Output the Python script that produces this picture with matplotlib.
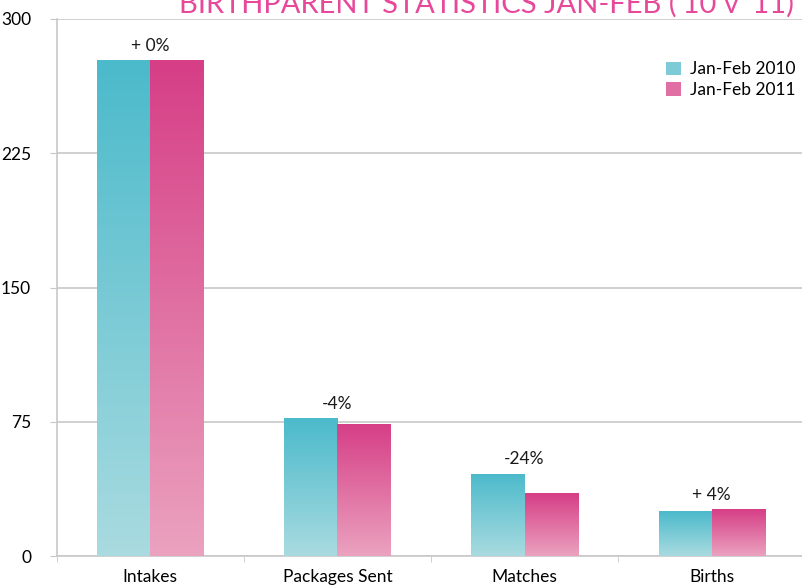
import numpy as np
import matplotlib
matplotlib.use("Agg")
import matplotlib.pyplot as plt
from matplotlib.colors import LinearSegmentedColormap
from matplotlib.patches import Patch

categories = ["Intakes", "Packages Sent", "Matches", "Births"]
series_names = ["Jan-Feb 2010", "Jan-Feb 2011"]
values_2010 = [277, 77, 46, 25]
values_2011 = [277, 74, 35, 26]
change_labels = ["+ 0%", "-4%", "-24%", "+ 4%"]
yticks = [0, 75, 150, 225, 300]

# top / bottom gradient colours
TEAL = ("#4bbacb", "#a9dbe0")
PINK = ("#d63e86", "#eba2bf")
GRID = "#c8c8c8"
TITLE = "#e8489a"
FS = 12.5

plt.rcParams["font.family"] = ["Lato", "DejaVu Sans"]

fig = plt.figure(figsize=(8.02, 5.88), dpi=100)
ax = fig.add_axes([0.0707, 0.0544, 0.9333, 0.9133])

x = np.arange(len(categories))
w = 0.284


def gradient_bars(xs, vals, cols):
    bars = ax.bar(xs, vals, width=w, color="none", edgecolor="none", zorder=3)
    cmap = LinearSegmentedColormap.from_list("g", [cols[1], cols[0]])
    grad = np.linspace(0, 1, 256).reshape(-1, 1)
    for b in bars:
        x0, y0 = b.get_x(), b.get_y()
        im = ax.imshow(grad, cmap=cmap, aspect="auto", origin="lower",
                       extent=(x0, x0 + b.get_width(), y0, y0 + b.get_height()),
                       zorder=3, interpolation="bicubic")
        im.set_clip_path(b)
    return bars


gradient_bars(x - w / 2, values_2010, TEAL)
gradient_bars(x + w / 2, values_2011, PINK)

for i, lab in enumerate(change_labels):
    top = max(values_2010[i], values_2011[i])
    ax.text(x[i], top + 3.5, lab, ha="center", va="bottom", fontsize=FS,
            color="#1a1a1a")

ax.set_xlim(-0.5, len(categories) - 0.5)
ax.set_ylim(0, 300)
ax.set_yticks(yticks)
ax.set_yticklabels([str(v) for v in yticks], fontsize=FS)
ax.set_xticks(x)
ax.set_xticklabels(categories, fontsize=FS)
ax.set_xticks(np.arange(len(categories)) - 0.5, minor=True)
ax.tick_params(axis="x", which="major", length=0, pad=9)
ax.tick_params(axis="x", which="minor", length=4, color=GRID)
ax.tick_params(axis="y", length=5, color=GRID, pad=13.5)
ax.yaxis.grid(True, color=GRID, linewidth=1.2, zorder=0)
ax.set_axisbelow(True)
for s in ["top", "right"]:
    ax.spines[s].set_visible(False)
for s in ["left", "bottom"]:
    ax.spines[s].set_color(GRID)
    ax.spines[s].set_linewidth(1.2)

handles = [Patch(facecolor="#7ccbd6", label=series_names[0]),
           Patch(facecolor="#e070a3", label=series_names[1])]
ax.legend(handles=handles, loc="upper right", bbox_to_anchor=(1.008, 0.95),
          frameon=False, fontsize=FS, handlelength=0.85, handleheight=0.85,
          handletextpad=0.55, labelspacing=0.25)

fig.text(0.99, 1 - 13 / 588, "BIRTHPARENT STATISTICS JAN-FEB ('10 v '11)",
         ha="right", va="baseline", fontsize=21, color=TITLE)

fig.savefig("out.png", dpi=100, facecolor="white")
